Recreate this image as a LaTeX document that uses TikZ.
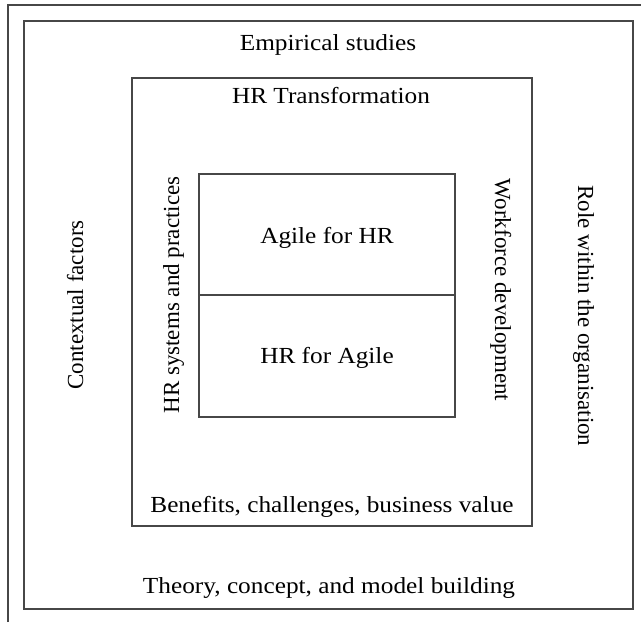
\documentclass[tikz,border=0pt]{standalone}
\usepackage{fontspec}
\setmainfont{Liberation Serif}[FakeStretch=1.1]
\newfontfamily\rotfont{Liberation Serif}
\tikzset{
  frame/.style={draw=black!72, line width=0.7pt},
  htext/.style={anchor=base, inner sep=0pt, font=\fontsize{11.5}{13}\selectfont},
  uptext/.style={anchor=base, inner sep=0pt, rotate=90, font=\rotfont\fontsize{11.5}{13}\selectfont},
  downtext/.style={anchor=base, inner sep=0pt, rotate=-90, font=\rotfont\fontsize{11.5}{13}\selectfont}
}
\begin{document}
\begin{tikzpicture}[x=0.5pt, y=-0.5pt]
\useasboundingbox (0,0) rectangle (641,622);
% partial page border
\coordinate (pa) at (8,622);
\coordinate (pb) at (8,5);
\coordinate (pc) at (641,5);
\draw[frame] (pa) -- (pb) -- (pc);
% outer frame
\node[frame, minimum width=304.5pt, minimum height=294pt, inner sep=0pt] (outer) at (328.5,315) {};
% HR Transformation box
\node[frame, minimum width=200pt, minimum height=224pt, inner sep=0pt] (hrt) at (332,302) {};
% inner boxes
\node[frame, minimum width=128pt, minimum height=60.5pt, inner sep=0pt] (agile) at (327,234.5) {};
\node[frame, minimum width=128pt, minimum height=61pt, inner sep=0pt] (hrfor) at (327,356) {};
% texts
\node[htext] (t1) at (328,50) {Empirical studies};
\node[htext] (t2) at (331,103) {HR Transformation};
\node[htext] (t3) at (327,243) {Agile for HR};
\node[htext] (t4) at (327,363) {HR for Agile};
\node[htext] (t5) at (332,512) {Benefits, challenges, business value};
\node[htext] (t6) at (329,593) {Theory, concept, and model building};
\node[uptext] (t7) at (83,305) {Contextual factors};
\node[uptext] (t8) at (179,295) {HR systems and practices};
\node[downtext] (t9) at (495,290) {Workforce development};
\node[downtext] (t10) at (578,316) {Role within the organisation};
\end{tikzpicture}
\end{document}
